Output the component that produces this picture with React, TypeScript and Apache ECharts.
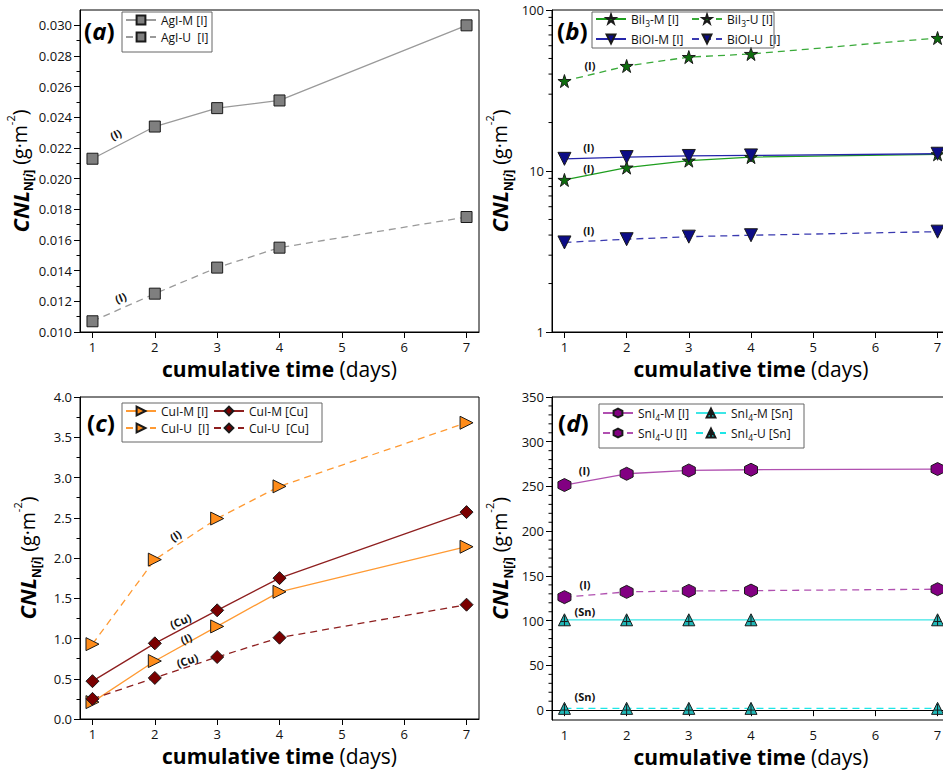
import React, { useEffect, useRef } from 'react';
import * as echarts from 'echarts';

// ---------- data ----------
const days = [1, 2, 3, 4, 7];
const xTickValues = [1, 2, 3, 4, 5, 6, 7];

const agiM = [0.0213, 0.0234, 0.0246, 0.0251, 0.03];
const agiU = [0.0107, 0.0125, 0.0142, 0.0155, 0.0175];

const bii3M = [8.8, 10.5, 11.6, 12.2, 12.7];
const bii3U = [36.2, 44.9, 51.0, 53.3, 67.0];
const bioiM = [11.9, 12.2, 12.4, 12.5, 12.8];
const bioiU = [3.6, 3.77, 3.91, 3.99, 4.2];

const cuiMI = [0.21, 0.72, 1.15, 1.58, 2.14];
const cuiUI = [0.93, 1.98, 2.49, 2.89, 3.68];
const cuiMCu = [0.47, 0.94, 1.35, 1.75, 2.57];
const cuiUCu = [0.25, 0.51, 0.77, 1.01, 1.42];

const sni4MI = [251.6, 264.2, 267.9, 268.7, 269.5];
const sni4UI = [126.3, 132.2, 133.3, 133.6, 135.2];
const sni4MSn = [101, 101, 101, 101, 101];
const sni4USn = [2, 2, 2, 2, 2];

const yTicksA = [0.01, 0.012, 0.014, 0.016, 0.018, 0.02, 0.022, 0.024, 0.026, 0.028, 0.03];
const yTicksB = [1, 10, 100];
const yMinorB = [2, 3, 4, 5, 6, 7, 8, 9, 20, 30, 40, 50, 60, 70, 80, 90];
const yTicksD = [0, 50, 100, 150, 200, 250, 300, 350];
const yMinorD = [10, 20, 30, 40, 60, 70, 80, 90, 110, 120, 130, 140, 160, 170, 180, 190, 210, 220, 230, 240, 260, 270, 280, 290, 310, 320, 330, 340];

const annotations = [
  { p: 0, x: 1.37, y: 0.0229, t: '(I)', r: 27 },
  { p: 0, x: 1.45, y: 0.01225, t: '(I)', r: 22 },
  { p: 1, x: 1.41, y: 45.5, t: '(I)', r: 0 },
  { p: 1, x: 1.39, y: 13.9, t: '(I)', r: 0 },
  { p: 1, x: 1.39, y: 10.4, t: '(I)', r: 0 },
  { p: 1, x: 1.39, y: 4.3, t: '(I)', r: 0 },
  { p: 2, x: 2.33, y: 2.28, t: '(I)', r: 33 },
  { p: 2, x: 2.41, y: 1.22, t: '(Cu)', r: 22 },
  { p: 2, x: 2.5, y: 1.0, t: '(I)', r: 24 },
  { p: 2, x: 2.52, y: 0.73, t: '(Cu)', r: 18 },
  { p: 3, x: 1.32, y: 268, t: '(I)', r: 0 },
  { p: 3, x: 1.33, y: 140, t: '(I)', r: 0 },
  { p: 3, x: 1.33, y: 110, t: '(Sn)', r: 0 },
  { p: 3, x: 1.33, y: 15, t: '(Sn)', r: 0 },
];

const FONT = "'Open Sans', 'Noto Sans', sans-serif";
const STAR = 'path://M50,0 L61.2,34.5 L97.6,34.5 L68.2,55.9 L79.4,90.5 L50,69.1 L20.6,90.5 L31.8,55.9 L2.4,34.5 L38.8,34.5 Z';
const HEX = 'path://M50,0 L93.3,25 L93.3,75 L50,100 L6.7,75 L6.7,25 Z';
const TRI_CROSS = 'path://M50,0 L100,90 L0,90 Z M50,12 L50,90 M22,58 L78,58';
const DASH = [7, 5];

function pts(arr: number[]) {
  return days.map((d, i) => [d, arr[i]]);
}

function ser(
  name: string, g: number, arr: number[], line: string, fill: string,
  symbol: string, size: number, dashed: boolean, rotate = 0
) {
  return {
    type: 'line', name, xAxisIndex: g, yAxisIndex: g, data: pts(arr),
    symbol, symbolSize: size, symbolRotate: rotate, showAllSymbol: true,
    lineStyle: { color: line, width: 1.3, type: dashed ? DASH : 'solid' },
    itemStyle: { color: fill, borderColor: '#1a1a1a', borderWidth: 1 },
    emphasis: { disabled: true },
  };
}

const grids = [
  { left: 80, top: 10, width: 399, height: 322 },
  { left: 552, top: 10, width: 398, height: 322 },
  { left: 80, top: 397, width: 399, height: 322 },
  { left: 552, top: 397, width: 398, height: 323 },
];

const yName = '{b|CNL}{s|N[}{si|i}{s|]}{n| (g·m}{sup|-2}{n|)}';
const yNameStyle = {
  color: '#000',
  rich: {
    b: { fontFamily: FONT, fontSize: 22, fontWeight: 'bold', fontStyle: 'italic', lineHeight: 30, color: '#000' },
    s: { fontFamily: FONT, fontSize: 12, fontWeight: 'bold', verticalAlign: 'bottom', lineHeight: 14, color: '#000' },
    si: { fontFamily: FONT, fontSize: 12, fontWeight: 'bold', fontStyle: 'italic', verticalAlign: 'bottom', lineHeight: 14, color: '#000' },
    n: { fontFamily: FONT, fontSize: 19.5, lineHeight: 30, color: '#000' },
    sup: { fontFamily: FONT, fontSize: 11, verticalAlign: 'top', lineHeight: 16, color: '#000' },
  },
};
const xName = '{b|cumulative time}{n| (days)}';
const xNameStyle = {
  rich: {
    b: { fontFamily: FONT, fontSize: 21, fontWeight: 'bold', color: '#000' },
    n: { fontFamily: FONT, fontSize: 21, color: '#000' },
  },
};

function xAxis(g: number) {
  return {
    type: 'value', gridIndex: g, min: 0.8, max: 7.2,
    name: xName, nameLocation: 'middle', nameGap: 26, nameTextStyle: xNameStyle,
    axisLine: { show: true, lineStyle: { color: '#000', width: 1 } },
    axisTick: { show: true, length: 6, lineStyle: { color: '#000' }, customValues: xTickValues },
    axisLabel: { customValues: xTickValues, fontFamily: FONT, fontSize: 13, color: '#111', margin: 8 },
    splitLine: { show: false },
  };
}

function yBase(g: number) {
  return {
    gridIndex: g,
    name: yName, nameLocation: 'middle', nameRotate: 90, nameGap: 38, nameTextStyle: yNameStyle,
    axisLine: { show: true, lineStyle: { color: '#000', width: 1 } },
    splitLine: { show: false },
  };
}

const labelStyle = { fontFamily: FONT, fontSize: 13, color: '#111', margin: 8 };

const yAxes = [
  {
    ...yBase(0), type: 'value', min: 0.01, max: 0.031, interval: 0.002,
    axisTick: { length: 6, lineStyle: { color: '#000' }, customValues: yTicksA },
    minorTick: { show: true, splitNumber: 2, length: 3.5, lineStyle: { color: '#000' } },
    axisLabel: { ...labelStyle, customValues: yTicksA, formatter: (v: number) => v.toFixed(3) },
  },
  {
    ...yBase(1), type: 'log', logBase: 10, min: 1, max: 100,
    axisTick: { length: 6, lineStyle: { color: '#000' }, customValues: yTicksB },
    axisLabel: { ...labelStyle, customValues: yTicksB, formatter: (v: number) => String(Math.round(v)) },
  },
  {
    ...yBase(2), type: 'value', min: 0, max: 4, interval: 0.5,
    axisTick: { length: 6, lineStyle: { color: '#000' } },
    minorTick: { show: true, splitNumber: 2, length: 3.5, lineStyle: { color: '#000' } },
    axisLabel: { ...labelStyle, formatter: (v: number) => v.toFixed(1) },
  },
  {
    ...yBase(3), type: 'value', min: -11, max: 350,
    axisTick: { length: 6, lineStyle: { color: '#000' }, customValues: yTicksD },
    axisLabel: { ...labelStyle, customValues: yTicksD, formatter: (v: number) => String(v) },
  },
];

const legendText = {
  fontFamily: FONT, fontSize: 12, color: '#111',
  rich: {
    n: { fontFamily: FONT, fontSize: 12, color: '#111' },
    s: { fontFamily: FONT, fontSize: 8.5, color: '#111', verticalAlign: 'bottom', lineHeight: 10, padding: [0, 0, -3, 0] },
  },
};
function legendFmt(name: string) {
  const m = name.match(/^(BiI|SnI)(\d)(.*)$/);
  if (m) return `{n|${m[1]}}{s|${m[2]}}{n|${m[3]}}`;
  return `{n|${name}}`;
}
function legend(left: number, top: number, data: string[]) {
  return {
    orient: 'vertical', left, top, itemWidth: 30, itemHeight: 11, itemGap: 5,
    data, formatter: legendFmt, textStyle: legendText, selectedMode: false, padding: 0,
  };
}

function letter(ch: string, x: number, y: number) {
  return {
    type: 'text', x, y, z: 50,
    style: {
      text: `{p|(}{l|${ch}}{p|)}`, verticalAlign: 'middle',
      rich: {
        p: { fontFamily: FONT, fontSize: 24, fontWeight: 'bold', fill: '#000' },
        l: { fontFamily: FONT, fontSize: 24, fontWeight: 'bold', fontStyle: 'italic', fill: '#000' },
      },
    },
  };
}

function box(x: number, y: number, w: number, h: number) {
  return { type: 'rect', z: 40, shape: { x, y, width: w, height: h }, style: { fill: 'rgba(255,255,255,0)', stroke: '#666', lineWidth: 1 } };
}

const seriesList = [
  ser('AgI-M [I]', 0, agiM, '#9a9a9a', '#7f7f7f', 'rect', 11, false),
  ser('AgI-U  [I]', 0, agiU, '#9a9a9a', '#7f7f7f', 'rect', 11, true),
  ser('BiI3-M [I]', 1, bii3M, '#1e9e1e', '#0e6e0e', STAR, 13, false),
  ser('BiI3-U [I]', 1, bii3U, '#3aaa3a', '#0e6e0e', STAR, 13, true),
  ser('BiOI-M [I]', 1, bioiM, '#2525aa', '#0c0c86', 'triangle', 13, false, 180),
  ser('BiOI-U  [I]', 1, bioiU, '#3a3ab0', '#0c0c86', 'triangle', 13, true, 180),
  ser('CuI-M [I]', 2, cuiMI, '#ff9a33', '#ff8c1a', 'triangle', 13, false, -90),
  ser('CuI-M [Cu]', 2, cuiMCu, '#8e1f1f', '#7a0000', 'diamond', 13, false),
  ser('CuI-U  [I]', 2, cuiUI, '#ff9a33', '#ff8c1a', 'triangle', 13, true, -90),
  ser('CuI-U  [Cu]', 2, cuiUCu, '#8e1f1f', '#7a0000', 'diamond', 13, true),
  ser('SnI4-M [I]', 3, sni4MI, '#b050b0', '#820082', HEX, 13, false),
  ser('SnI4-M [Sn]', 3, sni4MSn, '#3ee6e6', '#1fb8b8', TRI_CROSS, 12, false),
  ser('SnI4-U [I]', 3, sni4UI, '#b050b0', '#820082', HEX, 13, true),
  ser('SnI4-U [Sn]', 3, sni4USn, '#1ee6e6', '#1fb8b8', TRI_CROSS, 12, true),
];

export default function App() {
  const ref = useRef<HTMLDivElement>(null);
  useEffect(() => {
    if (!ref.current) return;
    document.body.style.margin = '0';
    document.body.style.overflow = 'hidden';
    const chart = echarts.init(ref.current, undefined, { renderer: 'svg' });
    chart.setOption({
      animation: false,
      backgroundColor: '#fff',
      grid: grids.map((g) => ({ ...g, show: true, borderColor: '#000', borderWidth: 1, containLabel: false })),
      xAxis: [0, 1, 2, 3].map(xAxis),
      yAxis: yAxes,
      legend: [
        { ...legend(125, 14, ['AgI-M [I]', 'AgI-U  [I]']) },
        { ...legend(595, 13, ['BiI3-M [I]', 'BiOI-M [I]']) },
        { ...legend(691, 13, ['BiI3-U [I]', 'BiOI-U  [I]']) },
        { ...legend(125, 405, ['CuI-M [I]', 'CuI-U  [I]']) },
        { ...legend(213, 405, ['CuI-M [Cu]', 'CuI-U  [Cu]']) },
        { ...legend(602, 407, ['SnI4-M [I]', 'SnI4-U [I]']) },
        { ...legend(695, 407, ['SnI4-M [Sn]', 'SnI4-U [Sn]']) },
      ],
      series: seriesList,
    });

    const graphics: any[] = [
      letter('a', 84, 30), letter('b', 557, 30), letter('c', 87, 422), letter('d', 558, 422),
      box(122, 12, 90, 40), box(592, 12, 182, 36), box(122, 403, 200, 39), box(599, 404, 205, 44),
    ];
    annotations.forEach((a) => {
      const p = chart.convertToPixel({ xAxisIndex: a.p, yAxisIndex: a.p }, [a.x, a.y]) as number[];
      graphics.push({
        type: 'text', x: p[0], y: p[1], rotation: (a.r * Math.PI) / 180, z: 45,
        style: { text: a.t, fontFamily: FONT, fontSize: 11, fontWeight: 'bold', fill: '#111', align: 'center', verticalAlign: 'middle' },
      });
    });
    const minor = (g: number, vals: number[]) => {
      vals.forEach((v) => {
        const p = chart.convertToPixel({ xAxisIndex: g, yAxisIndex: g }, [0.8, v]) as number[];
        graphics.push({ type: 'line', z: 30, shape: { x1: p[0] - 3.5, y1: p[1], x2: p[0], y2: p[1] }, style: { stroke: '#000', lineWidth: 1 } });
      });
    };
    minor(1, yMinorB);
    minor(3, yMinorD);
    chart.setOption({ graphic: graphics });

    return () => chart.dispose();
  }, []);
  return <div ref={ref} style={{ position: 'fixed', left: 0, top: 0, width: 960, height: 772, background: '#fff' }} />;
}
